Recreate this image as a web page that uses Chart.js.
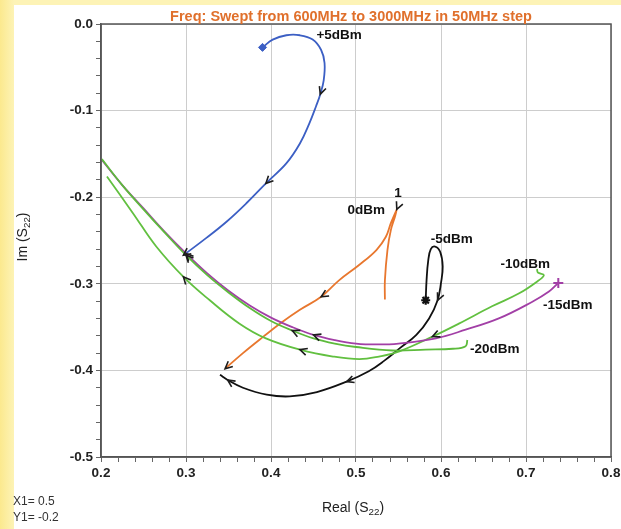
<!DOCTYPE html>
<html>
<head>
<meta charset="utf-8">
<script src="https://cdn.jsdelivr.net/npm/chart.js@4"></script>
<style>
  html,body{margin:0;padding:0;}
  body{width:621px;height:529px;overflow:hidden;position:relative;
    background:linear-gradient(90deg,#fbe98e 0px,#fdf3b6 14px,#fdf3b6 100%);}
  #panel{position:absolute;left:14px;top:5px;right:0;bottom:0;background:#fff;}
  #chart{position:absolute;left:0;top:0;}
</style>
</head>
<body>
<div id="panel"></div>
<canvas id="chart" width="621" height="529"></canvas>
<script>
// Re(S22) / Im(S22), in sweep order
const p5x = [0.390, 0.402, 0.418, 0.434, 0.449, 0.459, 0.463, 0.462, 0.458, 0.453, 0.445, 0.434, 0.418, 0.394, 0.371, 0.348, 0.324, 0.297];
const p5y = [-0.027, -0.018, -0.013, -0.013, -0.018, -0.030, -0.045, -0.065, -0.081, -0.095, -0.115, -0.138, -0.161, -0.184, -0.207, -0.228, -0.247, -0.267];

const p0x = [0.534, 0.534, 0.537, 0.541, 0.546, 0.548, 0.548, 0.541, 0.535, 0.524, 0.504, 0.480, 0.459, 0.434, 0.412, 0.391, 0.367, 0.346];
const p0y = [-0.318, -0.296, -0.261, -0.238, -0.222, -0.214, -0.214, -0.230, -0.246, -0.261, -0.278, -0.296, -0.315, -0.330, -0.345, -0.361, -0.380, -0.398];

const m5x = [0.582, 0.583, 0.585, 0.588, 0.593, 0.599, 0.602, 0.600, 0.596, 0.586, 0.571, 0.552, 0.533, 0.515, 0.489, 0.454, 0.422, 0.395, 0.367, 0.349, 0.340];
const m5y = [-0.319, -0.296, -0.273, -0.260, -0.257, -0.263, -0.280, -0.299, -0.319, -0.340, -0.359, -0.374, -0.389, -0.401, -0.413, -0.425, -0.430, -0.428, -0.420, -0.411, -0.405];

const m10x = [0.713, 0.714, 0.721, 0.715, 0.692, 0.660, 0.621, 0.590, 0.551, 0.527, 0.504, 0.473, 0.434, 0.394, 0.363, 0.328, 0.297, 0.265, 0.238, 0.207];
const m10y = [-0.283, -0.287, -0.290, -0.296, -0.311, -0.326, -0.346, -0.361, -0.378, -0.384, -0.387, -0.384, -0.376, -0.363, -0.346, -0.319, -0.292, -0.257, -0.219, -0.176];

const m15x = [0.738, 0.727, 0.707, 0.668, 0.629, 0.594, 0.550, 0.525, 0.500, 0.475, 0.450, 0.425, 0.400, 0.375, 0.350, 0.325, 0.300, 0.275, 0.250, 0.225, 0.201];
const m15y = [-0.299, -0.309, -0.321, -0.340, -0.353, -0.363, -0.369, -0.370, -0.369, -0.365, -0.359, -0.350, -0.339, -0.325, -0.308, -0.288, -0.265, -0.240, -0.213, -0.186, -0.157];

const m20x = [0.631, 0.629, 0.614, 0.582, 0.543, 0.500, 0.475, 0.450, 0.425, 0.400, 0.375, 0.350, 0.325, 0.300, 0.275, 0.250, 0.225, 0.201];
const m20y = [-0.365, -0.372, -0.375, -0.376, -0.377, -0.373, -0.369, -0.363, -0.354, -0.343, -0.328, -0.310, -0.290, -0.267, -0.241, -0.214, -0.186, -0.156];

// curve labels, anchored at their left edge in data units
const labelText = ["+5dBm", "0dBm", "1", "-5dBm", "-10dBm", "-15dBm", "-20dBm"];
const labelX = [0.4535, 0.490, 0.545, 0.588, 0.670, 0.720, 0.634];
const labelY = [-0.013, -0.215, -0.196, -0.249, -0.2775, -0.3245, -0.3757];

const FONT = '"Liberation Sans", Arial, sans-serif';

function pts(xs, ys){
  return xs.map((x,i)=>({x, y:ys[i]}));
}

function isMajor(v){
  return Math.abs(v*10 - Math.round(v*10)) < 1e-6;
}

function firstOnly(r){
  return ctx => ctx.dataIndex === 0 ? r : 0;
}

function series(data, color, extra){
  return Object.assign({
    data,
    showLine:true,
    borderColor:color,
    backgroundColor:color,
    borderWidth:1.8,
    tension:0.4,
    pointRadius:0,
    pointHoverRadius:0,
    fill:false
  }, extra);
}

// arrowheads at chosen samples, pointing along the sweep
const arrowPlugin = {
  id:"arrows",
  afterDatasetsDraw(chart){
    const ctx = chart.ctx;
    chart.data.datasets.forEach((ds,di)=>{
      if(!ds.arrows) return;
      const els = chart.getDatasetMeta(di).data;
      ds.arrows.forEach(i=>{
        const p = els[i];
        const q = i < els.length-1 ? els[i+1] : els[i-1];
        let ang = Math.atan2(q.y-p.y, q.x-p.x);
        if(i === els.length-1) ang += Math.PI;
        const len = 8, spread = 0.45;
        ctx.save();
        ctx.strokeStyle = "#1c1c1c";
        ctx.lineWidth = 1.6;
        ctx.beginPath();
        ctx.moveTo(p.x - len*Math.cos(ang-spread), p.y - len*Math.sin(ang-spread));
        ctx.lineTo(p.x, p.y);
        ctx.lineTo(p.x - len*Math.cos(ang+spread), p.y - len*Math.sin(ang+spread));
        ctx.stroke();
        ctx.restore();
      });
    });
  }
};

function drawSub(ctx, parts, x, y, size, align){
  let w = 0;
  parts.forEach(([t,sub])=>{
    ctx.font = (sub ? size*0.7 : size) + "px " + FONT;
    w += ctx.measureText(t).width;
  });
  let cx = align === "center" ? x - w/2 : x;
  ctx.textAlign = "left";
  ctx.textBaseline = "middle";
  parts.forEach(([t,sub])=>{
    ctx.font = (sub ? size*0.7 : size) + "px " + FONT;
    ctx.fillText(t, cx, sub ? y + size*0.3 : y);
    cx += ctx.measureText(t).width;
  });
}

const decorPlugin = {
  id:"decor",
  afterDraw(chart){
    const ctx = chart.ctx;
    const a = chart.chartArea;
    const sx = chart.scales.x, sy = chart.scales.y;
    ctx.save();

    ctx.strokeStyle = "#555";
    ctx.lineWidth = 1.5;
    ctx.strokeRect(a.left, a.top, a.right-a.left, a.bottom-a.top);

    ctx.fillStyle = "#e0702c";
    ctx.font = "bold 14.5px " + FONT;
    ctx.textAlign = "center";
    ctx.textBaseline = "middle";
    ctx.fillText("Freq: Swept from 600MHz to 3000MHz in 50MHz step", (a.left+a.right)/2 - 5, 17);

    ctx.fillStyle = "#111";
    ctx.font = "bold 13.5px " + FONT;
    ctx.textAlign = "left";
    labelText.forEach((t,i)=>{
      ctx.fillText(t, sx.getPixelForValue(labelX[i]), sy.getPixelForValue(labelY[i]));
    });

    ctx.fillStyle = "#222";
    drawSub(ctx, [["Real (S",false],["22",true],[")",false]], 353, 508, 14, "center");
    ctx.save();
    ctx.translate(23, 237);
    ctx.rotate(-Math.PI/2);
    drawSub(ctx, [["Im (S",false],["22",true],[")",false]], 0, 0, 14, "center");
    ctx.restore();

    ctx.fillStyle = "#333";
    ctx.font = "12px " + FONT;
    ctx.textAlign = "left";
    ctx.fillText("X1= 0.5", 13, 502);
    ctx.fillText("Y1= -0.2", 13, 518);
    ctx.restore();
  }
};

const gridColor = c => isMajor(c.tick.value) ? "#cdcdcd" : "rgba(0,0,0,0)";

new Chart(document.getElementById("chart"), {
  type:"scatter",
  data:{
    datasets:[
      series(pts(m20x,m20y), "#5dbb3c", {arrows:[8,13]}),
      series(pts(m15x,m15y), "#a23fa6", {arrows:[10,16], pointStyle:"cross", pointRadius:firstOnly(5), pointBorderWidth:2}),
      series(pts(m10x,m10y), "#62c040", {arrows:[7,12,16]}),
      series(pts(p0x,p0y), "#e8772e", {arrows:[6,12,17]}),
      series(pts(m5x,m5y), "#111111", {arrows:[8,14,19], pointStyle:"star", pointRadius:firstOnly(4.5), pointBorderWidth:2.2}),
      series(pts(p5x,p5y), "#3c5fc4", {arrows:[8,13,17], pointStyle:"rectRot", pointRadius:firstOnly(4), pointBorderWidth:1})
    ]
  },
  options:{
    responsive:false,
    animation:false,
    devicePixelRatio:1,
    layout:{padding:{left:0, top:24, right:10, bottom:42}},
    plugins:{legend:{display:false}, tooltip:{enabled:false}},
    scales:{
      x:{
        type:"linear", min:0.2, max:0.8,
        afterFit(s){ s.height = 30; s.paddingLeft = 0; s.paddingRight = 0; },
        ticks:{stepSize:0.02, autoSkip:false, maxRotation:0, padding:3,
          color:"#222", font:{family:FONT, size:13.5, weight:"bold"},
          callback:v => isMajor(v) ? v.toFixed(1) : ""},
        grid:{color:gridColor, tickColor:"#666", tickLength:5, lineWidth:1},
        border:{color:"#555", width:1.5}
      },
      y:{
        type:"linear", min:-0.5, max:0,
        afterFit(s){ s.width = 101; s.paddingTop = 0; s.paddingBottom = 0; },
        ticks:{stepSize:0.02, autoSkip:false, padding:3,
          color:"#222", font:{family:FONT, size:13.5, weight:"bold"},
          callback:v => isMajor(v) ? (Math.abs(v) < 1e-9 ? "0.0" : v.toFixed(1)) : ""},
        grid:{color:gridColor, tickColor:"#666", tickLength:5, lineWidth:1},
        border:{color:"#555", width:1.5}
      }
    }
  },
  plugins:[arrowPlugin, decorPlugin]
});
</script>
</body>
</html>
